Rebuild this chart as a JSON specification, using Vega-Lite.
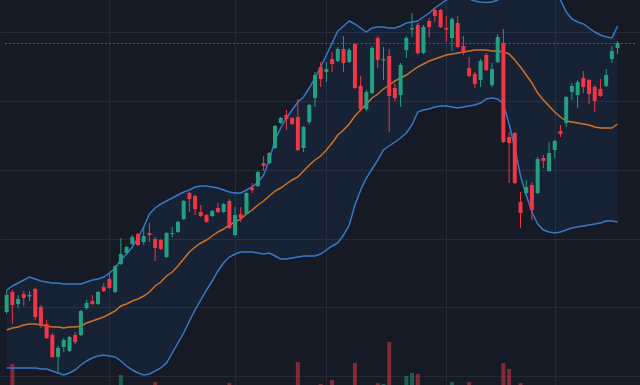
{
  "$schema": "https://vega.github.io/schema/vega-lite/v6.json",
  "width": 640,
  "height": 385,
  "autosize": "none",
  "padding": 0,
  "background": "#151a25",
  "config": {
    "view": {"stroke": null},
    "axis": {"domain": false, "ticks": false, "labels": false, "title": null, "gridColor": "#252a37", "gridWidth": 1, "gridOpacity": 1}
  },
  "data": {"values": [
    {"i":0,"o":88,"h":110,"l":86,"c":105,"v":34,"bbU":110,"bbM":70,"bbL":32},
    {"i":1,"o":108,"h":110,"l":76,"c":95,"v":50.5,"bbU":114,"bbM":72,"bbL":32},
    {"i":2,"o":96,"h":105,"l":92,"c":101,"v":30,"bbU":117,"bbM":73,"bbL":32},
    {"i":3,"o":106,"h":109,"l":94,"c":102,"v":28,"bbU":120,"bbM":75,"bbL":32},
    {"i":4,"o":103.5,"h":109,"l":99,"c":105,"v":26,"bbU":123,"bbM":76,"bbL":32},
    {"i":5,"o":111,"h":112,"l":80,"c":83,"v":37,"bbU":121,"bbM":76,"bbL":32},
    {"i":6,"o":93,"h":95,"l":72,"c":74,"v":35,"bbU":119,"bbM":75,"bbL":31},
    {"i":7,"o":76,"h":80,"l":61,"c":62,"v":33,"bbU":118,"bbM":74,"bbL":31},
    {"i":8,"o":65,"h":67,"l":42,"c":43,"v":38,"bbU":117,"bbM":73,"bbL":29},
    {"i":9,"o":43,"h":54,"l":28,"c":52,"v":36,"bbU":117,"bbM":73,"bbL":27},
    {"i":10,"o":53,"h":62,"l":48,"c":60,"v":29,"bbU":116,"bbM":72,"bbL":25},
    {"i":11,"o":49,"h":64,"l":48,"c":63,"v":31,"bbU":116,"bbM":73,"bbL":27},
    {"i":12,"o":65,"h":68,"l":56,"c":58,"v":27,"bbU":116,"bbM":73,"bbL":30},
    {"i":13,"o":65,"h":90,"l":64,"c":89,"v":36,"bbU":116,"bbM":74,"bbL":35},
    {"i":14,"o":92,"h":100,"l":90,"c":97,"v":30,"bbU":118,"bbM":77,"bbL":39},
    {"i":15,"o":99,"h":105,"l":95,"c":96,"v":25,"bbU":120,"bbM":79,"bbL":42},
    {"i":16,"o":96,"h":109,"l":95,"c":108,"v":32,"bbU":121,"bbM":81,"bbL":44},
    {"i":17,"o":113,"h":117,"l":108,"c":109,"v":27,"bbU":123,"bbM":83,"bbL":45},
    {"i":18,"o":121,"h":127,"l":111,"c":112,"v":33,"bbU":127,"bbM":86,"bbL":44},
    {"i":19,"o":108,"h":135,"l":107,"c":134,"v":38,"bbU":132,"bbM":89,"bbL":43},
    {"i":20,"o":136,"h":162,"l":135,"c":146,"v":45,"bbU":140,"bbM":94,"bbL":39},
    {"i":21,"o":147,"h":154,"l":146,"c":153,"v":30,"bbU":146,"bbM":96,"bbL":34},
    {"i":22,"o":156,"h":165,"l":155,"c":163,"v":31,"bbU":153,"bbM":99,"bbL":30},
    {"i":23,"o":166,"h":167,"l":154,"c":155,"v":28,"bbU":162,"bbM":101,"bbL":27},
    {"i":24,"o":158,"h":172,"l":155,"c":164,"v":29,"bbU":173,"bbM":104,"bbL":25},
    {"i":25,"o":167,"h":177,"l":158,"c":165,"v":30,"bbU":186,"bbM":108,"bbL":26},
    {"i":26,"o":161,"h":163,"l":139,"c":152,"v":41.5,"bbU":192,"bbM":114,"bbL":29},
    {"i":27,"o":160,"h":161,"l":150,"c":151,"v":32,"bbU":196,"bbM":118,"bbL":32},
    {"i":28,"o":143,"h":168,"l":142,"c":167,"v":37,"bbU":199,"bbM":124,"bbL":37},
    {"i":29,"o":166,"h":173,"l":163,"c":167,"v":26,"bbU":202,"bbM":128,"bbL":47},
    {"i":30,"o":168,"h":179,"l":167,"c":178,"v":31,"bbU":205,"bbM":134,"bbL":57},
    {"i":31,"o":181,"h":200,"l":180,"c":199,"v":38,"bbU":208,"bbM":141,"bbL":67},
    {"i":32,"o":207,"h":208,"l":188,"c":201,"v":35,"bbU":210,"bbM":148,"bbL":79},
    {"i":33,"o":204,"h":205,"l":185,"c":191,"v":36,"bbU":213,"bbM":153,"bbL":90},
    {"i":34,"o":188,"h":195,"l":183,"c":184,"v":29,"bbU":214,"bbM":157,"bbL":100},
    {"i":35,"o":185,"h":186,"l":177,"c":178,"v":30,"bbU":214,"bbM":160,"bbL":110},
    {"i":36,"o":184,"h":190,"l":183,"c":189,"v":27,"bbU":213,"bbM":164,"bbL":119},
    {"i":37,"o":192,"h":197,"l":187,"c":188,"v":28,"bbU":212,"bbM":168,"bbL":129},
    {"i":38,"o":188,"h":197,"l":187,"c":196,"v":30,"bbU":210,"bbM":171,"bbL":137},
    {"i":39,"o":199,"h":201,"l":171,"c":172,"v":41,"bbU":208,"bbM":175,"bbL":143},
    {"i":40,"o":165,"h":193,"l":164,"c":185,"v":39,"bbU":207,"bbM":178,"bbL":146},
    {"i":41,"o":186,"h":193,"l":178,"c":182,"v":29,"bbU":207,"bbM":181,"bbL":148},
    {"i":42,"o":186,"h":208,"l":185,"c":207,"v":36,"bbU":210,"bbM":186,"bbL":148},
    {"i":43,"o":212,"h":217,"l":207,"c":210,"v":27,"bbU":213,"bbM":190,"bbL":148},
    {"i":44,"o":214,"h":229,"l":213,"c":228,"v":33,"bbU":218,"bbM":195,"bbL":147},
    {"i":45,"o":237,"h":244,"l":229,"c":234,"v":30,"bbU":225,"bbM":199,"bbL":146},
    {"i":46,"o":237,"h":248,"l":236,"c":247,"v":32,"bbU":240,"bbM":204,"bbL":147},
    {"i":47,"o":252,"h":275,"l":251,"c":274,"v":38,"bbU":260,"bbM":209,"bbL":144},
    {"i":48,"o":277,"h":283,"l":276,"c":282,"v":29,"bbU":272,"bbM":212,"bbL":141},
    {"i":49,"o":285,"h":290,"l":270,"c":281,"v":34,"bbU":282,"bbM":216,"bbL":141},
    {"i":50,"o":282,"h":283,"l":275,"c":276,"v":30,"bbU":290,"bbM":220,"bbL":142},
    {"i":51,"o":283,"h":301,"l":249,"c":250,"v":51.5,"bbU":298,"bbM":223,"bbL":143},
    {"i":52,"o":252,"h":274,"l":248,"c":273,"v":37,"bbU":303,"bbM":229,"bbL":144},
    {"i":53,"o":278,"h":296,"l":276,"c":295,"v":33,"bbU":312,"bbM":235,"bbL":144},
    {"i":54,"o":302,"h":328,"l":293,"c":325,"v":39,"bbU":322,"bbM":240,"bbL":144},
    {"i":55,"o":333,"h":338,"l":313,"c":321,"v":40.5,"bbU":333,"bbM":244,"bbL":146},
    {"i":56,"o":328,"h":338,"l":318,"c":331,"v":35,"bbU":345,"bbM":250,"bbL":150},
    {"i":57,"o":341,"h":348,"l":328,"c":336,"v":42.5,"bbU":357,"bbM":257,"bbL":154},
    {"i":58,"o":339,"h":353,"l":338,"c":351,"v":31,"bbU":369,"bbM":265,"bbL":157},
    {"i":59,"o":351,"h":364,"l":328,"c":337,"v":38,"bbU":374,"bbM":270,"bbL":165},
    {"i":60,"o":338,"h":352,"l":337,"c":350,"v":30,"bbU":379,"bbM":276,"bbL":175},
    {"i":61,"o":356,"h":357,"l":311,"c":312,"v":51,"bbU":376,"bbM":284,"bbL":195},
    {"i":62,"o":314,"h":324,"l":290,"c":291,"v":39,"bbU":372,"bbM":290,"bbL":210},
    {"i":63,"o":291,"h":310,"l":289,"c":308,"v":36,"bbU":368,"bbM":296,"bbL":222},
    {"i":64,"o":307,"h":354,"l":306,"c":352,"v":39.5,"bbU":372,"bbM":302,"bbL":231},
    {"i":65,"o":362,"h":364,"l":332,"c":340,"v":41,"bbU":373,"bbM":306,"bbL":240},
    {"i":66,"o":339.5,"h":353,"l":320,"c":341,"v":40.5,"bbU":373,"bbM":311,"bbL":250},
    {"i":67,"o":344,"h":351,"l":268,"c":304,"v":61.5,"bbU":372,"bbM":315,"bbL":254},
    {"i":68,"o":312,"h":317,"l":299,"c":302,"v":37,"bbU":372,"bbM":319,"bbL":258},
    {"i":69,"o":305,"h":337,"l":293,"c":335,"v":39,"bbU":374,"bbM":322,"bbL":262},
    {"i":70,"o":350,"h":364,"l":342,"c":362,"v":44.5,"bbU":377,"bbM":325,"bbL":267},
    {"i":71,"o":370.5,"h":387,"l":363,"c":372,"v":46,"bbU":378,"bbM":329,"bbL":275},
    {"i":72,"o":375,"h":377,"l":345,"c":347,"v":45.5,"bbU":379,"bbM":333,"bbL":288},
    {"i":73,"o":347,"h":375,"l":346,"c":373,"v":38,"bbU":383,"bbM":336,"bbL":290},
    {"i":74,"o":379,"h":382,"l":363,"c":373,"v":30,"bbU":387,"bbM":339,"bbL":291},
    {"i":75,"o":390,"h":392,"l":378,"c":384,"v":33,"bbU":392,"bbM":341,"bbL":293},
    {"i":76,"o":390,"h":391,"l":372,"c":373,"v":36,"bbU":396,"bbM":343,"bbL":294},
    {"i":77,"o":372,"h":384,"l":358,"c":370.5,"v":31,"bbU":400,"bbM":345,"bbL":294},
    {"i":78,"o":362,"h":383,"l":349,"c":381,"v":41.5,"bbU":403,"bbM":346,"bbL":293},
    {"i":79,"o":377,"h":384,"l":352,"c":353,"v":37,"bbU":404,"bbM":347,"bbL":292},
    {"i":80,"o":354,"h":364,"l":345,"c":347,"v":32,"bbU":403,"bbM":348,"bbL":293},
    {"i":81,"o":332,"h":343,"l":323,"c":324,"v":41.5,"bbU":401,"bbM":349,"bbL":294},
    {"i":82,"o":326,"h":328,"l":312,"c":316,"v":35,"bbU":399,"bbM":350,"bbL":295},
    {"i":83,"o":320,"h":341,"l":313,"c":339,"v":33,"bbU":398,"bbM":350,"bbL":297},
    {"i":84,"o":345,"h":347,"l":329,"c":330,"v":30,"bbU":397.5,"bbM":350,"bbL":301},
    {"i":85,"o":315,"h":337,"l":313,"c":331,"v":34,"bbU":398,"bbM":349,"bbL":302},
    {"i":86,"o":338,"h":366,"l":337,"c":363,"v":38,"bbU":400,"bbM":349,"bbL":301},
    {"i":87,"o":357,"h":371,"l":257,"c":258,"v":51,"bbU":405,"bbM":348,"bbL":296},
    {"i":88,"o":263,"h":268,"l":217,"c":257,"v":48,"bbU":412,"bbM":346,"bbL":276},
    {"i":89,"o":267,"h":268,"l":216,"c":217,"v":39.5,"bbU":425,"bbM":340,"bbL":252},
    {"i":90,"o":198,"h":208,"l":172,"c":187,"v":41,"bbU":435,"bbM":333,"bbL":224},
    {"i":91,"o":207,"h":220,"l":205,"c":213,"v":37,"bbU":445,"bbM":325,"bbL":205},
    {"i":92,"o":215,"h":218,"l":180,"c":190,"v":38,"bbU":450,"bbM":317,"bbL":188},
    {"i":93,"o":207,"h":243,"l":206,"c":241,"v":36,"bbU":448,"bbM":307,"bbL":176},
    {"i":94,"o":242,"h":245,"l":232,"c":239,"v":30,"bbU":440,"bbM":300,"bbL":170},
    {"i":95,"o":229,"h":258,"l":228,"c":247,"v":33,"bbU":430,"bbM":294,"bbL":168},
    {"i":96,"o":250,"h":260,"l":242,"c":259,"v":31,"bbU":415,"bbM":288,"bbL":167},
    {"i":97,"o":269,"h":275,"l":263,"c":266,"v":28,"bbU":400,"bbM":283,"bbL":168},
    {"i":98,"o":277,"h":304,"l":273,"c":303,"v":35,"bbU":388,"bbM":279,"bbL":170},
    {"i":99,"o":308,"h":317,"l":300,"c":314,"v":30,"bbU":381,"bbM":278,"bbL":172},
    {"i":100,"o":305,"h":320,"l":292,"c":318,"v":34,"bbU":378,"bbM":277,"bbL":173},
    {"i":101,"o":322,"h":329,"l":307,"c":313,"v":36,"bbU":376,"bbM":276,"bbL":174},
    {"i":102,"o":320,"h":321,"l":296,"c":306,"v":39.5,"bbU":372,"bbM":275,"bbL":175},
    {"i":103,"o":313,"h":315,"l":288,"c":299,"v":37,"bbU":368,"bbM":273,"bbL":176},
    {"i":104,"o":311,"h":321,"l":303,"c":304,"v":32,"bbU":365,"bbM":272,"bbL":177},
    {"i":105,"o":314,"h":331,"l":313,"c":325,"v":30,"bbU":363,"bbM":272,"bbL":179},
    {"i":106,"o":341,"h":354,"l":337,"c":349,"v":35,"bbU":362,"bbM":272,"bbL":179},
    {"i":107,"o":352,"h":359,"l":346,"c":357,"v":33,"bbU":374,"bbM":276,"bbL":178}
  ]},
  "encoding": {
    "x": {"field": "i", "type": "quantitative", "scale": {"domain": [-0.293, 110.052], "nice": false, "zero": false}, "axis": {"values": [18, 40, 56, 77, 96], "grid": true}}
  },
  "layer": [
    {
      "mark": {"type": "bar", "size": 4, "clip": true, "opacity": 0.5},
      "encoding": {
        "y": {"field": "v", "type": "quantitative", "scale": {"domain": [40, 232.5], "zero": false, "nice": false}, "axis": null},
        "y2": {"datum": 0},
        "color": {"condition": {"test": "datum.c >= datum.o", "value": "#22a07f"}, "value": "#f23645"}
      }
    },
    {
      "layer": [
        {
          "mark": {"type": "area", "clip": true, "color": "#3d6cc0", "opacity": 0.1},
          "encoding": {
            "y": {"field": "bbU", "type": "quantitative", "scale": {"domain": [15, 400], "zero": false, "nice": false}, "axis": {"values": [24, 58.4, 92.7, 127.1, 161.4, 195.8, 230.1, 264.5, 298.8, 333.2, 367.5], "grid": true}},
            "y2": {"field": "bbL"}
          }
        },
        {
          "mark": {"type": "line", "clip": true, "color": "#3779c9", "strokeWidth": 1.5},
          "encoding": {"y": {"field": "bbU", "type": "quantitative"}}
        },
        {
          "mark": {"type": "line", "clip": true, "color": "#3779c9", "strokeWidth": 1.5},
          "encoding": {"y": {"field": "bbL", "type": "quantitative"}}
        },
        {
          "mark": {"type": "line", "clip": true, "color": "#d27126", "strokeWidth": 1.5},
          "encoding": {"y": {"field": "bbM", "type": "quantitative"}}
        },
        {
          "mark": {"type": "rule", "color": "#2b6b63", "strokeDash": [2, 2], "strokeWidth": 1},
          "encoding": {"x": {"datum": -0.293}, "x2": {"datum": 110.052}, "y": {"datum": 356.5}}
        },
        {
          "mark": {"type": "rule", "strokeWidth": 1},
          "encoding": {
            "y": {"field": "l", "type": "quantitative"},
            "y2": {"field": "h"},
            "color": {"condition": {"test": "datum.c >= datum.o", "value": "#22a07f"}, "value": "#f23645"}
          }
        },
        {
          "mark": {"type": "bar", "size": 4},
          "encoding": {
            "y": {"field": "o", "type": "quantitative"},
            "y2": {"field": "c"},
            "color": {"condition": {"test": "datum.c >= datum.o", "value": "#22a07f"}, "value": "#f23645"}
          }
        }
      ]
    }
  ],
  "resolve": {"scale": {"y": "independent"}}
}
